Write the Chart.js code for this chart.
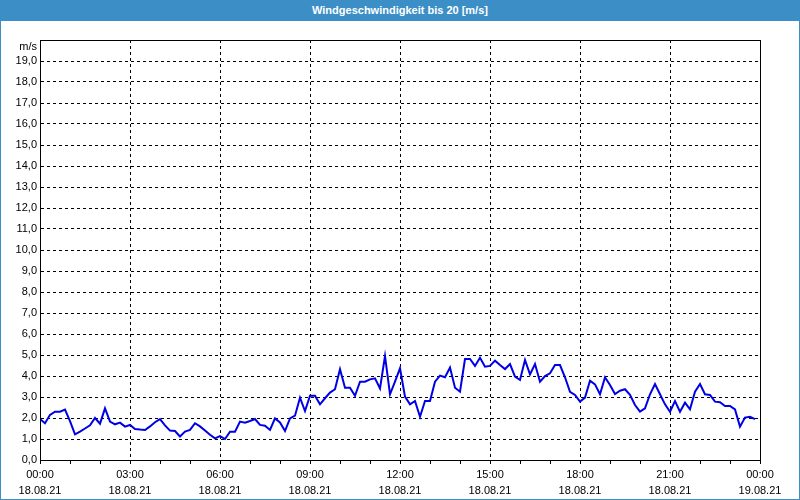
<!DOCTYPE html>
<html>
<head>
<meta charset="utf-8">
<script src="https://cdn.jsdelivr.net/npm/chart.js@4/dist/chart.umd.min.js"></script>
<style>
  html,body{margin:0;padding:0;background:#fff;}
  #frame{width:800px;height:500px;box-sizing:border-box;border:1px solid #3c8fc6;border-top:none;position:relative;background:#fff;}
  #bar{height:21px;background:#3c8fc6;color:#fff;font:bold 11px "Liberation Sans",Arial,sans-serif;text-align:center;line-height:21px;margin:0 -1px;}
  #wrap{position:relative;width:798px;height:478px;}
</style>
</head>
<body>
<div id="frame">
  <div id="bar">Windgeschwindigkeit bis 20 [m/s]</div>
  <div id="wrap"><canvas id="c" width="798" height="478"></canvas></div>
</div>
<script>
// 10-minute wind speed values (m/s), 18.08.21 00:00 .. 23:50
const windSpeed = [
  1.95,1.75,2.15,2.30,2.30,2.40,1.85,1.22,1.35,1.50,1.65,2.00,
  1.73,2.46,1.83,1.70,1.78,1.59,1.67,1.48,1.45,1.43,1.60,1.80,
  1.95,1.65,1.40,1.38,1.12,1.35,1.43,1.75,1.60,1.40,1.20,1.03,
  1.14,1.00,1.35,1.35,1.83,1.78,1.86,1.95,1.67,1.63,1.43,1.98,
  1.79,1.38,1.98,2.11,2.97,2.33,3.06,3.06,2.65,2.94,3.21,3.37,
  4.32,3.44,3.44,3.06,3.73,3.73,3.84,3.89,3.41,4.95,3.13,3.73,
  4.37,3.02,2.65,2.81,2.06,2.81,2.81,3.73,4.02,3.94,4.40,3.44,
  3.25,4.81,4.81,4.48,4.87,4.44,4.48,4.73,4.52,4.33,4.57,3.97,
  3.81,4.76,4.08,4.57,3.73,4.00,4.13,4.52,4.52,3.94,3.25,3.10,
  2.78,2.97,3.78,3.60,3.13,3.94,3.57,3.14,3.30,3.37,3.10,2.62,
  2.30,2.46,3.13,3.62,3.13,2.65,2.30,2.81,2.30,2.73,2.41,3.25,
  3.62,3.13,3.10,2.78,2.75,2.57,2.57,2.41,1.59,2.02,2.06,1.95
];
const sampleMinutes = 10;           // sampling interval
const tickTimes = ['00:00','03:00','06:00','09:00','12:00','15:00','18:00','21:00','00:00'];
const tickDates = ['18.08.21','18.08.21','18.08.21','18.08.21','18.08.21','18.08.21','18.08.21','18.08.21','19.08.21'];
const yUnit = 'm/s';

const points = windSpeed.map((v, i) => ({x: i * sampleMinutes, y: v}));

const frameBox = {
  id: 'frameBox',
  afterDraw(chart) {
    const {ctx, chartArea: a} = chart;
    ctx.save();
    ctx.strokeStyle = '#000';
    ctx.lineWidth = 1;
    ctx.strokeRect(Math.round(a.left) + 0.5, Math.round(a.top) + 0.5,
                   Math.round(a.right - a.left), Math.round(a.bottom - a.top));
    ctx.fillStyle = '#000';
    ctx.font = '11px "Liberation Sans", Arial, sans-serif';
    ctx.textAlign = 'right';
    ctx.textBaseline = 'middle';
    ctx.fillText(yUnit, a.left - 3, a.top + 7);
    ctx.restore();
  }
};

new Chart(document.getElementById('c'), {
  type: 'line',
  data: {
    datasets: [{
      data: points,
      borderColor: 'rgb(0,0,230)',
      borderWidth: 2,
      pointRadius: 0,
      tension: 0,
      fill: false
    }]
  },
  options: {
    responsive: false,
    animation: false,
    events: [],
    layout: {padding: {left: 0, top: 19, right: 39, bottom: 0}},
    plugins: {legend: {display: false}, tooltip: {enabled: false}, title: {display: false}},
    scales: {
      x: {
        type: 'linear',
        min: 0, max: 1440,
        afterFit(s) { s.height = 39; },
        border: {display: true, color: '#000', dash: [3, 3]},
        grid: {
          color: c => (c.tick && c.tick.value % 180 === 0 && c.tick.value > 0 && c.tick.value < 1440) ? '#000' : 'rgba(0,0,0,0)',
          tickColor: '#000',
          tickLength: 4,
          tickBorderDash: [],
          lineWidth: 1
        },
        ticks: {
          stepSize: 60,
          autoSkip: false,
          maxRotation: 0,
          color: '#000',
          padding: 3,
          font: {family: '"Liberation Sans", Arial, sans-serif', size: 11, lineHeight: 1.45},
          callback: v => v % 180 === 0 ? [tickTimes[v / 180], tickDates[v / 180]] : ''
        }
      },
      y: {
        min: 0, max: 20,
        afterFit(s) { s.width = 39; },
        border: {display: true, color: '#000', dash: [3, 3]},
        grid: {
          color: c => (c.tick && c.tick.value > 0 && c.tick.value < 20) ? '#000' : 'rgba(0,0,0,0)',
          drawTicks: false,
          lineWidth: 1
        },
        ticks: {
          stepSize: 1,
          color: '#000',
          padding: 3,
          font: {family: '"Liberation Sans", Arial, sans-serif', size: 11},
          callback: v => v >= 20 ? '' : v.toFixed(1).replace('.', ',')
        }
      }
    }
  },
  plugins: [frameBox]
});
</script>
</body>
</html>
